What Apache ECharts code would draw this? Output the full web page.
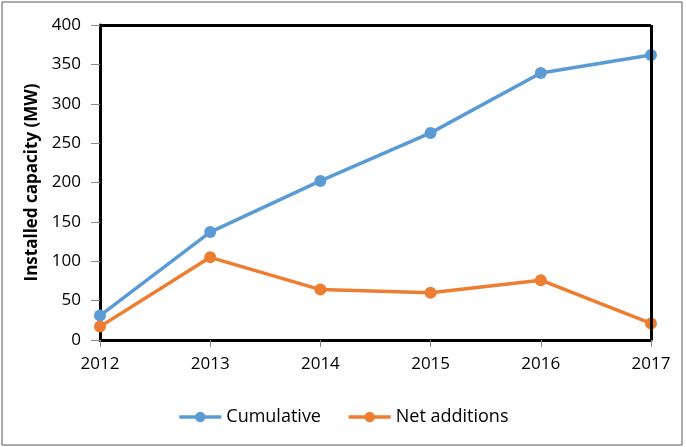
<!DOCTYPE html>
<html>
<head>
<meta charset="utf-8">
<script src="https://cdn.jsdelivr.net/npm/echarts@6/dist/echarts.min.js"></script>
<style>
  html, body { margin: 0; padding: 0; background: #fff; }
  #chart { width: 686px; height: 447px; }
</style>
</head>
<body>
<div id="chart"></div>
<script>
// years on the x axis
const years = ['2012', '2013', '2014', '2015', '2016', '2017'];
// installed capacity, MW
const cumulative = [31, 137, 202, 263, 339, 362];
const netAdditions = [17, 105, 64, 60, 76, 21];
const yTicks = { min: 0, max: 400, interval: 50 };

const blue = '#5B9BD5';
const orange = '#ED7D31';
const font = '"Open Sans", "Liberation Sans", sans-serif';

let myChart = echarts.init(document.getElementById('chart'));

let option = {
  animation: false,
  textStyle: { fontFamily: font },
  graphic: [{
    type: 'rect',
    shape: { x: 2, y: 2, width: 680, height: 443 },
    style: { fill: 'none', stroke: '#595959', lineWidth: 1 }
  }],
  grid: { left: 100, right: 35, top: 25, bottom: 107 },
  legend: {
    top: 403,
    left: 'center',
    itemWidth: 42,
    itemHeight: 13,
    itemGap: 26,
    lineStyle: { width: 3.5 },
    textStyle: { fontSize: 18, color: '#000', fontFamily: font },
    data: ['Cumulative', 'Net additions']
  },
  xAxis: {
    type: 'category',
    boundaryGap: false,
    data: years,
    axisLine: { lineStyle: { color: '#000', width: 3 } },
    axisTick: { show: true, length: 7, lineStyle: { color: '#888', width: 1 } },
    axisLabel: { fontSize: 17, color: '#000', margin: 16 },
    splitLine: { show: false }
  },
  yAxis: {
    type: 'value',
    min: yTicks.min,
    max: yTicks.max,
    interval: yTicks.interval,
    name: 'Installed capacity (MW)',
    nameLocation: 'middle',
    nameGap: 52,
    nameTextStyle: { fontSize: 17, fontWeight: 'bold', color: '#000', fontFamily: font },
    axisLine: { show: true, lineStyle: { color: '#000', width: 3 } },
    axisTick: { show: true, length: 9, lineStyle: { color: '#888', width: 1 } },
    axisLabel: { fontSize: 17, color: '#000', margin: 19 },
    splitLine: { show: false }
  },
  series: [
    {
      name: 'Cumulative',
      type: 'line',
      data: cumulative,
      symbol: 'circle',
      symbolSize: 12,
      itemStyle: { color: blue },
      lineStyle: { color: blue, width: 3.5 }
    },
    {
      name: 'Net additions',
      type: 'line',
      data: netAdditions,
      symbol: 'circle',
      symbolSize: 12,
      itemStyle: { color: orange },
      lineStyle: { color: orange, width: 3.5 }
    },
    {
      // top and right border of the plot box
      type: 'line',
      data: [],
      markLine: {
        silent: true,
        symbol: 'none',
        label: { show: false },
        lineStyle: { color: '#000', width: 3, type: 'solid' },
        data: [
          [{ coord: ['2012', 400] }, { coord: ['2017', 400] }],
          [{ coord: ['2017', 0] }, { coord: ['2017', 400] }]
        ]
      }
    }
  ]
};

myChart.setOption(option);
</script>
</body>
</html>
